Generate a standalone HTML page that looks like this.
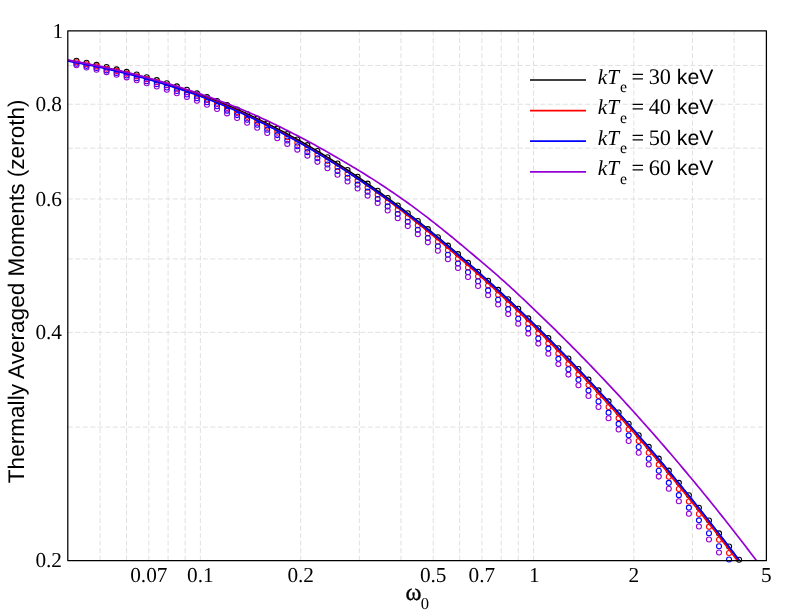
<!DOCTYPE html>
<html><head><meta charset="utf-8"><title>Thermally Averaged Moments</title>
<style>html,body{margin:0;padding:0;background:#fff;}body{width:797px;height:616px;overflow:hidden;font-family:"Liberation Sans",sans-serif;}svg{display:block;will-change:transform;}text{text-rendering:geometricPrecision;}</style>
</head><body>
<svg width="797" height="616" viewBox="0 0 797 616">
<rect width="797" height="616" fill="#fff"/>
<defs><clipPath id="c"><rect x="67.8" y="30.8" width="698.6" height="529.75"/></clipPath></defs>
<g stroke="#dcdcdc" stroke-width="0.9" stroke-dasharray="4.95 2.55" fill="none">
<path d="M100.09 560.55V30.8"/>
<path d="M126.47 560.55V30.8"/>
<path d="M148.77 560.55V30.8"/>
<path d="M168.09 560.55V30.8"/>
<path d="M185.13 560.55V30.8"/>
<path d="M200.38 560.55V30.8"/>
<path d="M300.67 560.55V30.8"/>
<path d="M359.33 560.55V30.8"/>
<path d="M400.96 560.55V30.8"/>
<path d="M433.24 560.55V30.8"/>
<path d="M459.62 560.55V30.8"/>
<path d="M481.93 560.55V30.8"/>
<path d="M501.25 560.55V30.8"/>
<path d="M518.29 560.55V30.8"/>
<path d="M533.53 560.55V30.8"/>
<path d="M633.82 560.55V30.8"/>
<path d="M692.49 560.55V30.8"/>
<path d="M734.11 560.55V30.8"/>
<path d="M67.8 427.09H766.4"/>
<path d="M67.8 332.40H766.4"/>
<path d="M67.8 258.95H766.4"/>
<path d="M67.8 198.94H766.4"/>
<path d="M67.8 148.20H766.4"/>
<path d="M67.8 104.25H766.4"/>
<path d="M67.8 65.48H766.4"/>
</g>
<g fill="none">
<g stroke="#000000" stroke-width="1.1"><circle cx="76.45" cy="60.82" r="2.5"/><circle cx="86.49" cy="62.79" r="2.5"/><circle cx="96.53" cy="64.86" r="2.5"/><circle cx="106.57" cy="67.07" r="2.5"/><circle cx="116.61" cy="69.40" r="2.5"/><circle cx="126.65" cy="71.87" r="2.5"/><circle cx="136.69" cy="74.47" r="2.5"/><circle cx="146.73" cy="77.23" r="2.5"/><circle cx="156.77" cy="80.13" r="2.5"/><circle cx="166.81" cy="83.19" r="2.5"/><circle cx="176.85" cy="86.42" r="2.5"/><circle cx="186.89" cy="89.81" r="2.5"/><circle cx="196.93" cy="93.37" r="2.5"/><circle cx="206.97" cy="97.12" r="2.5"/><circle cx="217.01" cy="101.04" r="2.5"/><circle cx="227.05" cy="105.16" r="2.5"/><circle cx="237.09" cy="109.46" r="2.5"/><circle cx="247.13" cy="113.96" r="2.5"/><circle cx="257.17" cy="118.65" r="2.5"/><circle cx="267.21" cy="123.55" r="2.5"/><circle cx="277.25" cy="128.64" r="2.5"/><circle cx="287.29" cy="133.94" r="2.5"/><circle cx="297.33" cy="139.45" r="2.5"/><circle cx="307.37" cy="145.15" r="2.5"/><circle cx="317.41" cy="151.07" r="2.5"/><circle cx="327.45" cy="157.18" r="2.5"/><circle cx="337.49" cy="163.50" r="2.5"/><circle cx="347.53" cy="170.02" r="2.5"/><circle cx="357.57" cy="176.74" r="2.5"/><circle cx="367.61" cy="183.66" r="2.5"/><circle cx="377.65" cy="190.76" r="2.5"/><circle cx="387.69" cy="198.06" r="2.5"/><circle cx="397.73" cy="205.54" r="2.5"/><circle cx="407.77" cy="213.21" r="2.5"/><circle cx="417.81" cy="221.06" r="2.5"/><circle cx="427.85" cy="229.08" r="2.5"/><circle cx="437.89" cy="237.27" r="2.5"/><circle cx="447.93" cy="245.64" r="2.5"/><circle cx="457.97" cy="254.17" r="2.5"/><circle cx="468.01" cy="262.86" r="2.5"/><circle cx="478.05" cy="271.72" r="2.5"/><circle cx="488.09" cy="280.73" r="2.5"/><circle cx="498.13" cy="289.91" r="2.5"/><circle cx="508.17" cy="299.24" r="2.5"/><circle cx="518.21" cy="308.73" r="2.5"/><circle cx="528.25" cy="318.38" r="2.5"/><circle cx="538.29" cy="328.18" r="2.5"/><circle cx="548.33" cy="338.14" r="2.5"/><circle cx="558.37" cy="348.27" r="2.5"/><circle cx="568.41" cy="358.55" r="2.5"/><circle cx="578.45" cy="369.00" r="2.5"/><circle cx="588.49" cy="379.61" r="2.5"/><circle cx="598.53" cy="390.39" r="2.5"/><circle cx="608.57" cy="401.34" r="2.5"/><circle cx="618.61" cy="412.45" r="2.5"/><circle cx="628.65" cy="423.75" r="2.5"/><circle cx="638.69" cy="435.21" r="2.5"/><circle cx="648.73" cy="446.85" r="2.5"/><circle cx="658.77" cy="458.67" r="2.5"/><circle cx="668.81" cy="470.67" r="2.5"/><circle cx="678.85" cy="482.85" r="2.5"/><circle cx="688.89" cy="495.22" r="2.5"/><circle cx="698.93" cy="507.76" r="2.5"/><circle cx="708.97" cy="520.48" r="2.5"/><circle cx="719.01" cy="533.39" r="2.5"/><circle cx="729.05" cy="546.48" r="2.5"/><circle cx="739.09" cy="559.75" r="2.5"/></g>
<g stroke="#ff0000" stroke-width="1.1"><circle cx="76.45" cy="62.23" r="2.5"/><circle cx="86.49" cy="64.26" r="2.5"/><circle cx="96.53" cy="66.41" r="2.5"/><circle cx="106.57" cy="68.69" r="2.5"/><circle cx="116.61" cy="71.10" r="2.5"/><circle cx="126.65" cy="73.64" r="2.5"/><circle cx="136.69" cy="76.33" r="2.5"/><circle cx="146.73" cy="79.17" r="2.5"/><circle cx="156.77" cy="82.16" r="2.5"/><circle cx="166.81" cy="85.31" r="2.5"/><circle cx="176.85" cy="88.63" r="2.5"/><circle cx="186.89" cy="92.11" r="2.5"/><circle cx="196.93" cy="95.77" r="2.5"/><circle cx="206.97" cy="99.61" r="2.5"/><circle cx="217.01" cy="103.64" r="2.5"/><circle cx="227.05" cy="107.85" r="2.5"/><circle cx="237.09" cy="112.25" r="2.5"/><circle cx="247.13" cy="116.84" r="2.5"/><circle cx="257.17" cy="121.64" r="2.5"/><circle cx="267.21" cy="126.63" r="2.5"/><circle cx="277.25" cy="131.82" r="2.5"/><circle cx="287.29" cy="137.22" r="2.5"/><circle cx="297.33" cy="142.82" r="2.5"/><circle cx="307.37" cy="148.62" r="2.5"/><circle cx="317.41" cy="154.62" r="2.5"/><circle cx="327.45" cy="160.83" r="2.5"/><circle cx="337.49" cy="167.24" r="2.5"/><circle cx="347.53" cy="173.84" r="2.5"/><circle cx="357.57" cy="180.64" r="2.5"/><circle cx="367.61" cy="187.64" r="2.5"/><circle cx="377.65" cy="194.82" r="2.5"/><circle cx="387.69" cy="202.20" r="2.5"/><circle cx="397.73" cy="209.75" r="2.5"/><circle cx="407.77" cy="217.49" r="2.5"/><circle cx="417.81" cy="225.41" r="2.5"/><circle cx="427.85" cy="233.50" r="2.5"/><circle cx="437.89" cy="241.76" r="2.5"/><circle cx="447.93" cy="250.19" r="2.5"/><circle cx="457.97" cy="258.79" r="2.5"/><circle cx="468.01" cy="267.55" r="2.5"/><circle cx="478.05" cy="276.47" r="2.5"/><circle cx="488.09" cy="285.55" r="2.5"/><circle cx="498.13" cy="294.79" r="2.5"/><circle cx="508.17" cy="304.19" r="2.5"/><circle cx="518.21" cy="313.74" r="2.5"/><circle cx="528.25" cy="323.46" r="2.5"/><circle cx="538.29" cy="333.33" r="2.5"/><circle cx="548.33" cy="343.36" r="2.5"/><circle cx="558.37" cy="353.55" r="2.5"/><circle cx="568.41" cy="363.91" r="2.5"/><circle cx="578.45" cy="374.42" r="2.5"/><circle cx="588.49" cy="385.11" r="2.5"/><circle cx="598.53" cy="395.96" r="2.5"/><circle cx="608.57" cy="406.97" r="2.5"/><circle cx="618.61" cy="418.17" r="2.5"/><circle cx="628.65" cy="429.53" r="2.5"/><circle cx="638.69" cy="441.07" r="2.5"/><circle cx="648.73" cy="452.78" r="2.5"/><circle cx="658.77" cy="464.67" r="2.5"/><circle cx="668.81" cy="476.75" r="2.5"/><circle cx="678.85" cy="489.00" r="2.5"/><circle cx="688.89" cy="501.43" r="2.5"/><circle cx="698.93" cy="514.04" r="2.5"/><circle cx="708.97" cy="526.84" r="2.5"/><circle cx="719.01" cy="539.81" r="2.5"/><circle cx="729.05" cy="552.97" r="2.5"/></g>
<g stroke="#0000ff" stroke-width="1.1"><circle cx="76.45" cy="63.75" r="2.5"/><circle cx="86.49" cy="65.85" r="2.5"/><circle cx="96.53" cy="68.07" r="2.5"/><circle cx="106.57" cy="70.42" r="2.5"/><circle cx="116.61" cy="72.91" r="2.5"/><circle cx="126.65" cy="75.53" r="2.5"/><circle cx="136.69" cy="78.30" r="2.5"/><circle cx="146.73" cy="81.22" r="2.5"/><circle cx="156.77" cy="84.30" r="2.5"/><circle cx="166.81" cy="87.54" r="2.5"/><circle cx="176.85" cy="90.94" r="2.5"/><circle cx="186.89" cy="94.52" r="2.5"/><circle cx="196.93" cy="98.27" r="2.5"/><circle cx="206.97" cy="102.20" r="2.5"/><circle cx="217.01" cy="106.32" r="2.5"/><circle cx="227.05" cy="110.63" r="2.5"/><circle cx="237.09" cy="115.12" r="2.5"/><circle cx="247.13" cy="119.82" r="2.5"/><circle cx="257.17" cy="124.70" r="2.5"/><circle cx="267.21" cy="129.79" r="2.5"/><circle cx="277.25" cy="135.08" r="2.5"/><circle cx="287.29" cy="140.57" r="2.5"/><circle cx="297.33" cy="146.26" r="2.5"/><circle cx="307.37" cy="152.15" r="2.5"/><circle cx="317.41" cy="158.24" r="2.5"/><circle cx="327.45" cy="164.54" r="2.5"/><circle cx="337.49" cy="171.03" r="2.5"/><circle cx="347.53" cy="177.72" r="2.5"/><circle cx="357.57" cy="184.60" r="2.5"/><circle cx="367.61" cy="191.67" r="2.5"/><circle cx="377.65" cy="198.93" r="2.5"/><circle cx="387.69" cy="206.38" r="2.5"/><circle cx="397.73" cy="214.01" r="2.5"/><circle cx="407.77" cy="221.82" r="2.5"/><circle cx="417.81" cy="229.81" r="2.5"/><circle cx="427.85" cy="237.96" r="2.5"/><circle cx="437.89" cy="246.29" r="2.5"/><circle cx="447.93" cy="254.79" r="2.5"/><circle cx="457.97" cy="263.45" r="2.5"/><circle cx="468.01" cy="272.27" r="2.5"/><circle cx="478.05" cy="281.26" r="2.5"/><circle cx="488.09" cy="290.40" r="2.5"/><circle cx="498.13" cy="299.71" r="2.5"/><circle cx="508.17" cy="309.17" r="2.5"/><circle cx="518.21" cy="318.79" r="2.5"/><circle cx="528.25" cy="328.57" r="2.5"/><circle cx="538.29" cy="338.51" r="2.5"/><circle cx="548.33" cy="348.60" r="2.5"/><circle cx="558.37" cy="358.86" r="2.5"/><circle cx="568.41" cy="369.28" r="2.5"/><circle cx="578.45" cy="379.87" r="2.5"/><circle cx="588.49" cy="390.62" r="2.5"/><circle cx="598.53" cy="401.54" r="2.5"/><circle cx="608.57" cy="412.63" r="2.5"/><circle cx="618.61" cy="423.89" r="2.5"/><circle cx="628.65" cy="435.33" r="2.5"/><circle cx="638.69" cy="446.94" r="2.5"/><circle cx="648.73" cy="458.72" r="2.5"/><circle cx="658.77" cy="470.68" r="2.5"/><circle cx="668.81" cy="482.83" r="2.5"/><circle cx="678.85" cy="495.15" r="2.5"/><circle cx="688.89" cy="507.65" r="2.5"/><circle cx="698.93" cy="520.33" r="2.5"/><circle cx="708.97" cy="533.19" r="2.5"/><circle cx="719.01" cy="546.23" r="2.5"/><circle cx="729.05" cy="559.45" r="2.5"/></g>
<g stroke="#9400d3" stroke-width="1.1"><circle cx="76.45" cy="65.28" r="2.5"/><circle cx="86.49" cy="67.44" r="2.5"/><circle cx="96.53" cy="69.74" r="2.5"/><circle cx="106.57" cy="72.16" r="2.5"/><circle cx="116.61" cy="74.72" r="2.5"/><circle cx="126.65" cy="77.42" r="2.5"/><circle cx="136.69" cy="80.28" r="2.5"/><circle cx="146.73" cy="83.28" r="2.5"/><circle cx="156.77" cy="86.44" r="2.5"/><circle cx="166.81" cy="89.76" r="2.5"/><circle cx="176.85" cy="93.26" r="2.5"/><circle cx="186.89" cy="96.92" r="2.5"/><circle cx="196.93" cy="100.77" r="2.5"/><circle cx="206.97" cy="104.79" r="2.5"/><circle cx="217.01" cy="109.00" r="2.5"/><circle cx="227.05" cy="113.40" r="2.5"/><circle cx="237.09" cy="117.99" r="2.5"/><circle cx="247.13" cy="122.77" r="2.5"/><circle cx="257.17" cy="127.75" r="2.5"/><circle cx="267.21" cy="132.93" r="2.5"/><circle cx="277.25" cy="138.31" r="2.5"/><circle cx="287.29" cy="143.89" r="2.5"/><circle cx="297.33" cy="149.67" r="2.5"/><circle cx="307.37" cy="155.65" r="2.5"/><circle cx="317.41" cy="161.83" r="2.5"/><circle cx="327.45" cy="168.20" r="2.5"/><circle cx="337.49" cy="174.78" r="2.5"/><circle cx="347.53" cy="181.55" r="2.5"/><circle cx="357.57" cy="188.51" r="2.5"/><circle cx="367.61" cy="195.65" r="2.5"/><circle cx="377.65" cy="202.99" r="2.5"/><circle cx="387.69" cy="210.51" r="2.5"/><circle cx="397.73" cy="218.21" r="2.5"/><circle cx="407.77" cy="226.09" r="2.5"/><circle cx="417.81" cy="234.14" r="2.5"/><circle cx="427.85" cy="242.37" r="2.5"/><circle cx="437.89" cy="250.76" r="2.5"/><circle cx="447.93" cy="259.32" r="2.5"/><circle cx="457.97" cy="268.04" r="2.5"/><circle cx="468.01" cy="276.93" r="2.5"/><circle cx="478.05" cy="285.98" r="2.5"/><circle cx="488.09" cy="295.19" r="2.5"/><circle cx="498.13" cy="304.55" r="2.5"/><circle cx="508.17" cy="314.08" r="2.5"/><circle cx="518.21" cy="323.76" r="2.5"/><circle cx="528.25" cy="333.61" r="2.5"/><circle cx="538.29" cy="343.61" r="2.5"/><circle cx="548.33" cy="353.77" r="2.5"/><circle cx="558.37" cy="364.10" r="2.5"/><circle cx="568.41" cy="374.59" r="2.5"/><circle cx="578.45" cy="385.24" r="2.5"/><circle cx="588.49" cy="396.06" r="2.5"/><circle cx="598.53" cy="407.05" r="2.5"/><circle cx="608.57" cy="418.21" r="2.5"/><circle cx="618.61" cy="429.54" r="2.5"/><circle cx="628.65" cy="441.04" r="2.5"/><circle cx="638.69" cy="452.72" r="2.5"/><circle cx="648.73" cy="464.57" r="2.5"/><circle cx="658.77" cy="476.60" r="2.5"/><circle cx="668.81" cy="488.81" r="2.5"/><circle cx="678.85" cy="501.20" r="2.5"/><circle cx="688.89" cy="513.77" r="2.5"/><circle cx="698.93" cy="526.52" r="2.5"/><circle cx="708.97" cy="539.44" r="2.5"/><circle cx="719.01" cy="552.55" r="2.5"/></g>
</g>
<g clip-path="url(#c)" fill="none">
<path d="M67.80 60.42 L70.14 60.84 L72.47 61.26 L74.81 61.68 L77.15 62.11 L79.48 62.55 L81.82 62.99 L84.16 63.43 L86.49 63.89 L88.83 64.35 L91.16 64.82 L93.50 65.29 L95.84 65.77 L98.17 66.25 L100.51 66.75 L102.85 67.24 L105.18 67.75 L107.52 68.26 L109.86 68.78 L112.19 69.31 L114.53 69.84 L116.87 70.38 L119.20 70.93 L121.54 71.49 L123.87 72.05 L126.21 72.62 L128.55 73.19 L130.88 73.78 L133.22 74.37 L135.56 74.97 L137.89 75.58 L140.23 76.19 L142.57 76.82 L144.90 77.45 L147.24 78.09 L149.58 78.74 L151.91 79.39 L154.25 80.06 L156.59 80.73 L158.92 81.41 L161.26 82.09 L163.59 82.79 L165.93 83.49 L168.27 84.21 L170.60 84.93 L172.94 85.66 L175.28 86.40 L177.61 87.15 L179.95 87.90 L182.29 88.67 L184.62 89.45 L186.96 90.23 L189.30 91.03 L191.63 91.83 L193.97 92.65 L196.31 93.47 L198.64 94.31 L200.98 95.15 L203.31 96.01 L205.65 96.87 L207.99 97.74 L210.32 98.63 L212.66 99.52 L215.00 100.42 L217.33 101.33 L219.67 102.25 L222.01 103.19 L224.34 104.13 L226.68 105.08 L229.02 106.05 L231.35 107.03 L233.69 108.02 L236.02 109.02 L238.36 110.04 L240.70 111.06 L243.03 112.10 L245.37 113.16 L247.71 114.22 L250.04 115.30 L252.38 116.40 L254.72 117.51 L257.05 118.64 L259.39 119.77 L261.73 120.92 L264.06 122.07 L266.40 123.24 L268.74 124.41 L271.07 125.58 L273.41 126.77 L275.74 127.97 L278.08 129.17 L280.42 130.39 L282.75 131.62 L285.09 132.86 L287.43 134.12 L289.76 135.38 L292.10 136.65 L294.44 137.94 L296.77 139.24 L299.11 140.54 L301.45 141.86 L303.78 143.19 L306.12 144.53 L308.45 145.88 L310.79 147.25 L313.13 148.62 L315.46 150.01 L317.80 151.40 L320.14 152.81 L322.47 154.23 L324.81 155.66 L327.15 157.10 L329.48 158.55 L331.82 160.01 L334.16 161.48 L336.49 162.97 L338.83 164.46 L341.17 165.97 L343.50 167.48 L345.84 169.01 L348.17 170.55 L350.51 172.10 L352.85 173.66 L355.18 175.23 L357.52 176.81 L359.86 178.40 L362.19 180.00 L364.53 181.61 L366.87 183.24 L369.20 184.87 L371.54 186.51 L373.88 188.17 L376.21 189.83 L378.55 191.51 L380.88 193.19 L383.22 194.89 L385.56 196.59 L387.89 198.30 L390.23 200.02 L392.57 201.75 L394.90 203.49 L397.24 205.23 L399.58 206.99 L401.91 208.76 L404.25 210.54 L406.59 212.32 L408.92 214.12 L411.26 215.93 L413.60 217.75 L415.93 219.58 L418.27 221.42 L420.60 223.27 L422.94 225.13 L425.28 227.01 L427.61 228.89 L429.95 230.78 L432.29 232.68 L434.62 234.59 L436.96 236.51 L439.30 238.43 L441.63 240.37 L443.97 242.32 L446.31 244.27 L448.64 246.24 L450.98 248.21 L453.32 250.19 L455.65 252.18 L457.99 254.18 L460.32 256.19 L462.66 258.21 L465.00 260.23 L467.33 262.27 L469.67 264.31 L472.01 266.37 L474.34 268.43 L476.68 270.50 L479.02 272.58 L481.35 274.66 L483.69 276.76 L486.03 278.87 L488.36 280.98 L490.70 283.10 L493.03 285.23 L495.37 287.37 L497.71 289.52 L500.04 291.67 L502.38 293.84 L504.72 296.02 L507.05 298.20 L509.39 300.40 L511.73 302.60 L514.06 304.82 L516.40 307.04 L518.74 309.28 L521.07 311.52 L523.41 313.77 L525.75 316.03 L528.08 318.30 L530.42 320.58 L532.75 322.87 L535.09 325.17 L537.43 327.47 L539.76 329.78 L542.10 332.11 L544.44 334.44 L546.77 336.77 L549.11 339.12 L551.45 341.47 L553.78 343.84 L556.12 346.21 L558.46 348.59 L560.79 350.98 L563.13 353.38 L565.46 355.79 L567.80 358.21 L570.14 360.64 L572.47 363.08 L574.81 365.52 L577.15 367.98 L579.48 370.44 L581.82 372.91 L584.16 375.39 L586.49 377.88 L588.83 380.38 L591.17 382.88 L593.50 385.40 L595.84 387.92 L598.18 390.45 L600.51 393.00 L602.85 395.54 L605.18 398.10 L607.52 400.67 L609.86 403.24 L612.19 405.82 L614.53 408.41 L616.87 411.01 L619.20 413.62 L621.54 416.23 L623.88 418.85 L626.21 421.49 L628.55 424.13 L630.89 426.78 L633.22 429.44 L635.56 432.12 L637.89 434.80 L640.23 437.49 L642.57 440.19 L644.90 442.90 L647.24 445.62 L649.58 448.34 L651.91 451.08 L654.25 453.83 L656.59 456.59 L658.92 459.36 L661.26 462.13 L663.60 464.92 L665.93 467.72 L668.27 470.52 L670.61 473.34 L672.94 476.16 L675.28 479.00 L677.61 481.85 L679.95 484.70 L682.29 487.57 L684.62 490.44 L686.96 493.33 L689.30 496.22 L691.63 499.12 L693.97 502.04 L696.31 504.96 L698.64 507.90 L700.98 510.84 L703.32 513.80 L705.65 516.76 L707.99 519.73 L710.33 522.72 L712.66 525.71 L715.00 528.71 L717.33 531.73 L719.67 534.75 L722.01 537.78 L724.34 540.82 L726.68 543.88 L729.02 546.94 L731.35 550.01 L733.69 553.09 L736.03 556.18 L738.36 559.28 L740.70 562.40 L743.04 565.52 L745.37 568.65 L747.71 571.79 L750.04 574.94 L752.38 578.10 L754.72 581.27 L757.05 584.44 L759.39 587.63 L761.73 590.83 L764.06 594.04 L766.40 597.26" stroke="#000000" stroke-width="1.7" stroke-linejoin="round"/>
<path d="M67.80 60.52 L70.14 60.94 L72.47 61.37 L74.81 61.80 L77.15 62.24 L79.48 62.68 L81.82 63.13 L84.16 63.59 L86.49 64.05 L88.83 64.52 L91.16 65.00 L93.50 65.48 L95.84 65.97 L98.17 66.46 L100.51 66.97 L102.85 67.47 L105.18 67.99 L107.52 68.51 L109.86 69.05 L112.19 69.58 L114.53 70.13 L116.87 70.68 L119.20 71.24 L121.54 71.81 L123.87 72.38 L126.21 72.97 L128.55 73.56 L130.88 74.16 L133.22 74.76 L135.56 75.38 L137.89 76.00 L140.23 76.63 L142.57 77.27 L144.90 77.91 L147.24 78.57 L149.58 79.23 L151.91 79.91 L154.25 80.59 L156.59 81.28 L158.92 81.97 L161.26 82.68 L163.59 83.39 L165.93 84.12 L168.27 84.85 L170.60 85.59 L172.94 86.34 L175.28 87.10 L177.61 87.87 L179.95 88.65 L182.29 89.43 L184.62 90.23 L186.96 91.03 L189.30 91.85 L191.63 92.67 L193.97 93.50 L196.31 94.35 L198.64 95.20 L200.98 96.06 L203.31 96.93 L205.65 97.82 L207.99 98.71 L210.32 99.61 L212.66 100.53 L215.00 101.45 L217.33 102.39 L219.67 103.33 L222.01 104.29 L224.34 105.26 L226.68 106.24 L229.02 107.23 L231.35 108.22 L233.69 109.24 L236.02 110.26 L238.36 111.29 L240.70 112.33 L243.03 113.38 L245.37 114.45 L247.71 115.52 L250.04 116.61 L252.38 117.72 L254.72 118.84 L257.05 119.97 L259.39 121.11 L261.73 122.27 L264.06 123.44 L266.40 124.61 L268.74 125.80 L271.07 126.99 L273.41 128.19 L275.74 129.41 L278.08 130.63 L280.42 131.87 L282.75 133.11 L285.09 134.37 L287.43 135.64 L289.76 136.92 L292.10 138.21 L294.44 139.51 L296.77 140.82 L299.11 142.14 L301.45 143.47 L303.78 144.81 L306.12 146.17 L308.45 147.53 L310.79 148.91 L313.13 150.29 L315.46 151.69 L317.80 153.09 L320.14 154.51 L322.47 155.94 L324.81 157.38 L327.15 158.83 L329.48 160.30 L331.82 161.77 L334.16 163.25 L336.49 164.75 L338.83 166.26 L341.17 167.77 L343.50 169.30 L345.84 170.84 L348.17 172.39 L350.51 173.95 L352.85 175.52 L355.18 177.10 L357.52 178.70 L359.86 180.30 L362.19 181.91 L364.53 183.54 L366.87 185.17 L369.20 186.82 L371.54 188.47 L373.88 190.14 L376.21 191.81 L378.55 193.50 L380.88 195.20 L383.22 196.91 L385.56 198.62 L387.89 200.35 L390.23 202.09 L392.57 203.84 L394.90 205.60 L397.24 207.37 L399.58 209.15 L401.91 210.94 L404.25 212.74 L406.59 214.54 L408.92 216.36 L411.26 218.19 L413.60 220.02 L415.93 221.86 L418.27 223.71 L420.60 225.57 L422.94 227.44 L425.28 229.32 L427.61 231.20 L429.95 233.10 L432.29 235.00 L434.62 236.92 L436.96 238.84 L439.30 240.77 L441.63 242.71 L443.97 244.66 L446.31 246.62 L448.64 248.58 L450.98 250.56 L453.32 252.54 L455.65 254.54 L457.99 256.54 L460.32 258.55 L462.66 260.57 L465.00 262.60 L467.33 264.64 L469.67 266.69 L472.01 268.75 L474.34 270.81 L476.68 272.89 L479.02 274.97 L481.35 277.07 L483.69 279.17 L486.03 281.29 L488.36 283.41 L490.70 285.55 L493.03 287.69 L495.37 289.84 L497.71 292.01 L500.04 294.17 L502.38 296.35 L504.72 298.54 L507.05 300.73 L509.39 302.94 L511.73 305.15 L514.06 307.37 L516.40 309.60 L518.74 311.84 L521.07 314.09 L523.41 316.35 L525.75 318.61 L528.08 320.88 L530.42 323.17 L532.75 325.46 L535.09 327.75 L537.43 330.06 L539.76 332.38 L542.10 334.70 L544.44 337.03 L546.77 339.37 L549.11 341.72 L551.45 344.08 L553.78 346.44 L556.12 348.82 L558.46 351.20 L560.79 353.59 L563.13 355.99 L565.46 358.40 L567.80 360.82 L570.14 363.25 L572.47 365.69 L574.81 368.13 L577.15 370.58 L579.48 373.05 L581.82 375.52 L584.16 378.00 L586.49 380.49 L588.83 382.99 L591.17 385.49 L593.50 388.01 L595.84 390.53 L598.18 393.06 L600.51 395.60 L602.85 398.15 L605.18 400.70 L607.52 403.27 L609.86 405.84 L612.19 408.42 L614.53 411.01 L616.87 413.61 L619.20 416.22 L621.54 418.83 L623.88 421.45 L626.21 424.09 L628.55 426.73 L630.89 429.38 L633.22 432.04 L635.56 434.72 L637.89 437.40 L640.23 440.09 L642.57 442.79 L644.90 445.50 L647.24 448.22 L649.58 450.94 L651.91 453.68 L654.25 456.43 L656.59 459.19 L658.92 461.96 L661.26 464.73 L663.60 467.52 L665.93 470.32 L668.27 473.12 L670.61 475.94 L672.94 478.76 L675.28 481.60 L677.61 484.45 L679.95 487.30 L682.29 490.17 L684.62 493.04 L686.96 495.93 L689.30 498.82 L691.63 501.72 L693.97 504.64 L696.31 507.56 L698.64 510.50 L700.98 513.44 L703.32 516.40 L705.65 519.36 L707.99 522.33 L710.33 525.32 L712.66 528.31 L715.00 531.31 L717.33 534.33 L719.67 537.35 L722.01 540.38 L724.34 543.42 L726.68 546.48 L729.02 549.54 L731.35 552.61 L733.69 555.69 L736.03 558.78 L738.36 561.88 L740.70 565.00 L743.04 568.12 L745.37 571.25 L747.71 574.39 L750.04 577.54 L752.38 580.70 L754.72 583.87 L757.05 587.04 L759.39 590.23 L761.73 593.43 L764.06 596.64 L766.40 599.86" stroke="#ff0000" stroke-width="1.7" stroke-linejoin="round"/>
<path d="M67.80 61.02 L70.14 61.44 L72.47 61.87 L74.81 62.30 L77.15 62.74 L79.48 63.18 L81.82 63.63 L84.16 64.09 L86.49 64.55 L88.83 65.02 L91.16 65.50 L93.50 65.98 L95.84 66.47 L98.17 66.96 L100.51 67.47 L102.85 67.97 L105.18 68.49 L107.52 69.01 L109.86 69.55 L112.19 70.08 L114.53 70.63 L116.87 71.18 L119.20 71.74 L121.54 72.31 L123.87 72.88 L126.21 73.47 L128.55 74.06 L130.88 74.66 L133.22 75.26 L135.56 75.88 L137.89 76.50 L140.23 77.13 L142.57 77.77 L144.90 78.41 L147.24 79.07 L149.58 79.73 L151.91 80.41 L154.25 81.09 L156.59 81.78 L158.92 82.47 L161.26 83.18 L163.59 83.89 L165.93 84.62 L168.27 85.35 L170.60 86.09 L172.94 86.84 L175.28 87.60 L177.61 88.37 L179.95 89.15 L182.29 89.93 L184.62 90.73 L186.96 91.53 L189.30 92.35 L191.63 93.17 L193.97 94.00 L196.31 94.85 L198.64 95.70 L200.98 96.56 L203.31 97.43 L205.65 98.31 L207.99 99.21 L210.32 100.11 L212.66 101.02 L215.00 101.94 L217.33 102.87 L219.67 103.81 L222.01 104.77 L224.34 105.73 L226.68 106.70 L229.02 107.68 L231.35 108.68 L233.69 109.68 L236.02 110.69 L238.36 111.72 L240.70 112.75 L243.03 113.80 L245.37 114.85 L247.71 115.92 L250.04 117.01 L252.38 118.11 L254.72 119.23 L257.05 120.37 L259.39 121.51 L261.73 122.67 L264.06 123.84 L266.40 125.02 L268.74 126.20 L271.07 127.39 L273.41 128.59 L275.74 129.79 L278.08 131.01 L280.42 132.24 L282.75 133.48 L285.09 134.73 L287.43 135.99 L289.76 137.26 L292.10 138.54 L294.44 139.83 L296.77 141.13 L299.11 142.44 L301.45 143.76 L303.78 145.09 L306.12 146.43 L308.45 147.78 L310.79 149.15 L313.13 150.52 L315.46 151.91 L317.80 153.30 L320.14 154.71 L322.47 156.13 L324.81 157.56 L327.15 159.00 L329.48 160.45 L331.82 161.91 L334.16 163.38 L336.49 164.87 L338.83 166.36 L341.17 167.87 L343.50 169.38 L345.84 170.89 L348.17 172.41 L350.51 173.94 L352.85 175.47 L355.18 177.01 L357.52 178.56 L359.86 180.12 L362.19 181.68 L364.53 183.26 L366.87 184.84 L369.20 186.44 L371.54 188.04 L373.88 189.66 L376.21 191.29 L378.55 192.93 L380.88 194.58 L383.22 196.24 L385.56 197.91 L387.89 199.59 L390.23 201.28 L392.57 202.97 L394.90 204.68 L397.24 206.39 L399.58 208.12 L401.91 209.85 L404.25 211.60 L406.59 213.36 L408.92 215.13 L411.26 216.91 L413.60 218.70 L415.93 220.51 L418.27 222.33 L420.60 224.17 L422.94 226.01 L425.28 227.87 L427.61 229.73 L429.95 231.61 L432.29 233.49 L434.62 235.39 L436.96 237.30 L439.30 239.21 L441.63 241.14 L443.97 243.07 L446.31 245.02 L448.64 246.97 L450.98 248.93 L453.32 250.91 L455.65 252.89 L457.99 254.88 L460.32 256.88 L462.66 258.88 L465.00 260.90 L467.33 262.93 L469.67 264.96 L472.01 267.00 L474.34 269.05 L476.68 271.11 L479.02 273.18 L481.35 275.26 L483.69 277.34 L486.03 279.43 L488.36 281.53 L490.70 283.63 L493.03 285.75 L495.37 287.88 L497.71 290.02 L500.04 292.17 L502.38 294.34 L504.72 296.51 L507.05 298.69 L509.39 300.88 L511.73 303.08 L514.06 305.29 L516.40 307.51 L518.74 309.73 L521.07 311.96 L523.41 314.20 L525.75 316.45 L528.08 318.71 L530.42 320.98 L532.75 323.26 L535.09 325.54 L537.43 327.83 L539.76 330.13 L542.10 332.44 L544.44 334.76 L546.77 337.09 L549.11 339.42 L551.45 341.77 L553.78 344.12 L556.12 346.48 L558.46 348.85 L560.79 351.23 L563.13 353.62 L565.46 356.02 L567.80 358.42 L570.14 360.84 L572.47 363.26 L574.81 365.69 L577.15 368.13 L579.48 370.58 L581.82 373.04 L584.16 375.51 L586.49 377.99 L588.83 380.47 L591.17 382.97 L593.50 385.47 L595.84 387.98 L598.18 390.50 L600.51 393.04 L602.85 395.58 L605.18 398.13 L607.52 400.68 L609.86 403.25 L612.19 405.83 L614.53 408.42 L616.87 411.01 L619.20 413.62 L621.54 416.23 L623.88 418.85 L626.21 421.49 L628.55 424.13 L630.89 426.78 L633.22 429.44 L635.56 432.12 L637.89 434.80 L640.23 437.49 L642.57 440.19 L644.90 442.90 L647.24 445.62 L649.58 448.34 L651.91 451.08 L654.25 453.83 L656.59 456.59 L658.92 459.36 L661.26 462.13 L663.60 464.92 L665.93 467.72 L668.27 470.52 L670.61 473.34 L672.94 476.16 L675.28 479.00 L677.61 481.85 L679.95 484.70 L682.29 487.57 L684.62 490.44 L686.96 493.33 L689.30 496.22 L691.63 499.12 L693.97 502.04 L696.31 504.96 L698.64 507.90 L700.98 510.84 L703.32 513.80 L705.65 516.76 L707.99 519.73 L710.33 522.72 L712.66 525.71 L715.00 528.71 L717.33 531.73 L719.67 534.75 L722.01 537.78 L724.34 540.82 L726.68 543.88 L729.02 546.94 L731.35 550.01 L733.69 553.09 L736.03 556.18 L738.36 559.28 L740.70 562.40 L743.04 565.52 L745.37 568.65 L747.71 571.79 L750.04 574.94 L752.38 578.10 L754.72 581.27 L757.05 584.44 L759.39 587.63 L761.73 590.83 L764.06 594.04 L766.40 597.26" stroke="#0000ff" stroke-width="1.7" stroke-linejoin="round"/>
<path d="M67.80 60.02 L70.14 60.45 L72.47 60.88 L74.81 61.31 L77.15 61.75 L79.48 62.19 L81.82 62.64 L84.16 63.09 L86.49 63.55 L88.83 64.02 L91.16 64.49 L93.50 64.96 L95.84 65.44 L98.17 65.93 L100.51 66.43 L102.85 66.93 L105.18 67.43 L107.52 67.94 L109.86 68.46 L112.19 68.99 L114.53 69.52 L116.87 70.05 L119.20 70.60 L121.54 71.15 L123.87 71.71 L126.21 72.27 L128.55 72.85 L130.88 73.43 L133.22 74.01 L135.56 74.61 L137.89 75.21 L140.23 75.82 L142.57 76.44 L144.90 77.06 L147.24 77.70 L149.58 78.34 L151.91 78.99 L154.25 79.64 L156.59 80.30 L158.92 80.96 L161.26 81.63 L163.59 82.31 L165.93 82.99 L168.27 83.68 L170.60 84.37 L172.94 85.08 L175.28 85.79 L177.61 86.50 L179.95 87.23 L182.29 87.96 L184.62 88.70 L186.96 89.45 L189.30 90.21 L191.63 90.98 L193.97 91.75 L196.31 92.54 L198.64 93.33 L200.98 94.14 L203.31 94.95 L205.65 95.77 L207.99 96.59 L210.32 97.42 L212.66 98.26 L215.00 99.11 L217.33 99.97 L219.67 100.83 L222.01 101.70 L224.34 102.59 L226.68 103.48 L229.02 104.38 L231.35 105.30 L233.69 106.22 L236.02 107.15 L238.36 108.10 L240.70 109.06 L243.03 110.02 L245.37 111.01 L247.71 112.00 L250.04 113.01 L252.38 114.02 L254.72 115.05 L257.05 116.09 L259.39 117.14 L261.73 118.20 L264.06 119.27 L266.40 120.36 L268.74 121.45 L271.07 122.55 L273.41 123.66 L275.74 124.79 L278.08 125.92 L280.42 127.07 L282.75 128.22 L285.09 129.39 L287.43 130.56 L289.76 131.75 L292.10 132.94 L294.44 134.15 L296.77 135.36 L299.11 136.58 L301.45 137.80 L303.78 139.04 L306.12 140.29 L308.45 141.54 L310.79 142.80 L313.13 144.07 L315.46 145.35 L317.80 146.64 L320.14 147.94 L322.47 149.25 L324.81 150.56 L327.15 151.88 L329.48 153.22 L331.82 154.56 L334.16 155.90 L336.49 157.26 L338.83 158.63 L341.17 160.00 L343.50 161.37 L345.84 162.75 L348.17 164.14 L350.51 165.52 L352.85 166.92 L355.18 168.32 L357.52 169.73 L359.86 171.14 L362.19 172.57 L364.53 174.01 L366.87 175.45 L369.20 176.91 L371.54 178.39 L373.88 179.88 L376.21 181.38 L378.55 182.90 L380.88 184.44 L383.22 185.98 L385.56 187.54 L387.89 189.11 L390.23 190.69 L392.57 192.28 L394.90 193.88 L397.24 195.49 L399.58 197.11 L401.91 198.75 L404.25 200.40 L406.59 202.06 L408.92 203.74 L411.26 205.43 L413.60 207.14 L415.93 208.86 L418.27 210.59 L420.60 212.35 L422.94 214.11 L425.28 215.89 L427.61 217.68 L429.95 219.49 L432.29 221.31 L434.62 223.14 L436.96 224.98 L439.30 226.84 L441.63 228.70 L443.97 230.58 L446.31 232.47 L448.64 234.36 L450.98 236.27 L453.32 238.18 L455.65 240.11 L457.99 242.04 L460.32 243.98 L462.66 245.92 L465.00 247.88 L467.33 249.83 L469.67 251.80 L472.01 253.77 L474.34 255.75 L476.68 257.73 L479.02 259.72 L481.35 261.71 L483.69 263.69 L486.03 265.67 L488.36 267.65 L490.70 269.64 L493.03 271.65 L495.37 273.67 L497.71 275.71 L500.04 277.77 L502.38 279.86 L504.72 281.96 L507.05 284.07 L509.39 286.20 L511.73 288.34 L514.06 290.49 L516.40 292.65 L518.74 294.82 L521.07 297.00 L523.41 299.19 L525.75 301.39 L528.08 303.60 L530.42 305.82 L532.75 308.05 L535.09 310.28 L537.43 312.53 L539.76 314.78 L542.10 317.04 L544.44 319.30 L546.77 321.57 L549.11 323.85 L551.45 326.13 L553.78 328.42 L556.12 330.72 L558.46 333.03 L560.79 335.34 L563.13 337.66 L565.46 339.99 L567.80 342.33 L570.14 344.68 L572.47 347.04 L574.81 349.40 L577.15 351.77 L579.48 354.16 L581.82 356.54 L584.16 358.94 L586.49 361.35 L588.83 363.76 L591.17 366.19 L593.50 368.62 L595.84 371.06 L598.18 373.51 L600.51 375.97 L602.85 378.43 L605.18 380.91 L607.52 383.39 L609.86 385.88 L612.19 388.39 L614.53 390.90 L616.87 393.41 L619.20 395.94 L621.54 398.48 L623.88 401.03 L626.21 403.58 L628.55 406.14 L630.89 408.71 L633.22 411.29 L635.56 413.88 L637.89 416.48 L640.23 419.09 L642.57 421.70 L644.90 424.33 L647.24 426.96 L649.58 429.60 L651.91 432.26 L654.25 434.92 L656.59 437.59 L658.92 440.27 L661.26 442.95 L663.60 445.65 L665.93 448.36 L668.27 451.08 L670.61 453.80 L672.94 456.54 L675.28 459.28 L677.61 462.04 L679.95 464.80 L682.29 467.58 L684.62 470.36 L686.96 473.15 L689.30 475.94 L691.63 478.75 L693.97 481.57 L696.31 484.39 L698.64 487.22 L700.98 490.07 L703.32 492.92 L705.65 495.78 L707.99 498.65 L710.33 501.53 L712.66 504.43 L715.00 507.33 L717.33 510.24 L719.67 513.16 L722.01 516.10 L724.34 519.04 L726.68 522.00 L729.02 524.96 L731.35 527.94 L733.69 530.93 L736.03 533.93 L738.36 536.94 L740.70 539.97 L743.04 543.01 L745.37 546.05 L747.71 549.11 L750.04 552.18 L752.38 555.26 L754.72 558.35 L757.05 561.45 L759.39 564.57 L761.73 567.69 L764.06 570.82 L766.40 573.97" stroke="#9400d3" stroke-width="1.7" stroke-linejoin="round"/>
</g>
<rect x="67.8" y="30.8" width="698.6" height="529.75" fill="none" stroke="#000" stroke-width="1.25" stroke-linejoin="round"/>
<g font-family="Liberation Serif, serif" font-size="21.3" fill="#000">
<text x="63.1" y="38.0" text-anchor="end">1</text>
<text x="62" y="111.4" text-anchor="end">0.8</text>
<text x="62" y="206.0" text-anchor="end">0.6</text>
<text x="62" y="339.3" text-anchor="end">0.4</text>
<text x="62" y="567.2" text-anchor="end">0.2</text>
<text x="148.8" y="581.7" text-anchor="middle">0.07</text>
<text x="200.4" y="581.7" text-anchor="middle">0.1</text>
<text x="300.7" y="581.7" text-anchor="middle">0.2</text>
<text x="433.2" y="581.7" text-anchor="middle">0.5</text>
<text x="481.9" y="581.7" text-anchor="middle">0.7</text>
<text x="534.3" y="581.7" text-anchor="middle">1</text>
<text x="633.8" y="581.7" text-anchor="middle">2</text>
<text x="766.4" y="581.7" text-anchor="middle">5</text>
</g>
<text transform="translate(24.3 291.3) rotate(-90)" text-anchor="middle" font-family="Liberation Sans, sans-serif" font-size="22.6" fill="#000">Thermally Averaged Moments (zeroth)</text>
<text x="405.6" y="599.8" font-family="Liberation Serif, serif" font-size="24.3" fill="#000" stroke="#000" stroke-width="0.35">ω</text>
<text x="420.8" y="608.8" font-family="Liberation Serif, serif" font-size="16.6" fill="#000">0</text>
<path d="M530 80.0H586" stroke="#000000" stroke-width="1.7" fill="none"/>
<g font-family="Liberation Serif, serif" font-size="22.3" fill="#000"><text x="597.8" y="83.6" font-style="italic" font-size="21.3">kT</text><text x="619.9" y="91.9" font-size="15.8">e</text><text x="631.4" y="83.6">=</text><text x="648.7" y="83.6">30</text><text x="676.8" y="83.6" font-family="Liberation Sans, sans-serif" font-size="21.2">keV</text></g>
<path d="M530 110.6H586" stroke="#ff0000" stroke-width="1.7" fill="none"/>
<g font-family="Liberation Serif, serif" font-size="22.3" fill="#000"><text x="597.8" y="114.2" font-style="italic" font-size="21.3">kT</text><text x="619.9" y="122.5" font-size="15.8">e</text><text x="631.4" y="114.2">=</text><text x="648.7" y="114.2">40</text><text x="676.8" y="114.2" font-family="Liberation Sans, sans-serif" font-size="21.2">keV</text></g>
<path d="M530 141.2H586" stroke="#0000ff" stroke-width="1.7" fill="none"/>
<g font-family="Liberation Serif, serif" font-size="22.3" fill="#000"><text x="597.8" y="144.8" font-style="italic" font-size="21.3">kT</text><text x="619.9" y="153.1" font-size="15.8">e</text><text x="631.4" y="144.8">=</text><text x="648.7" y="144.8">50</text><text x="676.8" y="144.8" font-family="Liberation Sans, sans-serif" font-size="21.2">keV</text></g>
<path d="M530 171.8H586" stroke="#9400d3" stroke-width="1.7" fill="none"/>
<g font-family="Liberation Serif, serif" font-size="22.3" fill="#000"><text x="597.8" y="175.4" font-style="italic" font-size="21.3">kT</text><text x="619.9" y="183.7" font-size="15.8">e</text><text x="631.4" y="175.4">=</text><text x="648.7" y="175.4">60</text><text x="676.8" y="175.4" font-family="Liberation Sans, sans-serif" font-size="21.2">keV</text></g>
</svg>
</body></html>
